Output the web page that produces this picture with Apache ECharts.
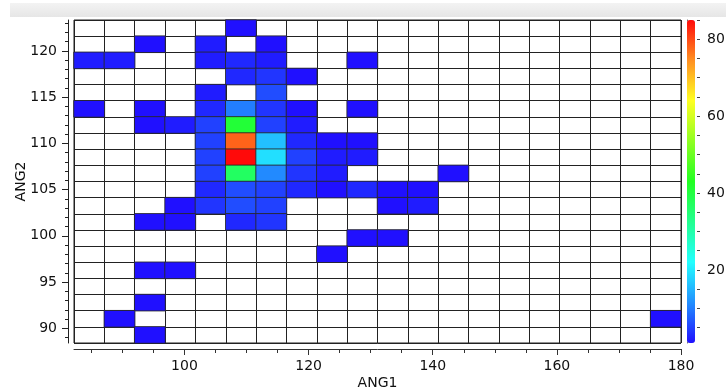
<!DOCTYPE html>
<html>
<head>
<meta charset="utf-8">
<style>
  html, body { margin: 0; padding: 0; background: #ffffff; }
  #chart { width: 726px; height: 391px; }
</style>
<script src="https://cdn.jsdelivr.net/npm/echarts@6/dist/echarts.min.js"></script>
</head>
<body>
<div id="chart"></div>
<script>
// ANG1 bin centres (20 bins spanning 82.2 .. 180)
const ang1Bins = [84.6, 89.5, 94.4, 99.3, 104.2, 109.1, 114.0, 118.9, 123.8, 128.7,
                  133.6, 138.5, 143.3, 148.2, 153.1, 158.0, 162.9, 167.8, 172.7, 177.6];
// ANG2 bin centres (20 bins spanning 88.41 .. 123.35)
const ang2Bins = [89.3, 91.0, 92.8, 94.5, 96.3, 98.0, 99.8, 101.5, 103.3, 105.0,
                  106.8, 108.5, 110.3, 112.0, 113.8, 115.5, 117.3, 119.0, 120.8, 122.5];
// axis ranges
const ang1Range = [82.2, 180];
const ang2Range = [88.41, 123.35];
const countRange = [1, 85];
// tick labels
const ang1Labels = [100, 120, 140, 160, 180];
const ang1Minor = [85, 90, 95, 100, 105, 110, 115, 120, 125, 130, 135, 140, 145, 150, 155, 160, 165, 170, 175, 180];
const ang2Labels = [90, 95, 100, 105, 110, 115, 120];
const ang2Minor = [89, 90, 91, 92, 93, 94, 95, 96, 97, 98, 99, 100, 101, 102, 103, 104, 105, 106,
                   107, 108, 109, 110, 111, 112, 113, 114, 115, 116, 117, 118, 119, 120, 121, 122, 123];
const countLabels = [20, 40, 60, 80];
const countMinor = [5, 10, 15, 20, 25, 30, 35, 40, 45, 50, 55, 60, 65, 70, 75, 80, 85];
// non-empty cells: [ANG1 bin index, ANG2 bin index, count]
const cells = [
  [5,19,1],
  [2,18,1],[4,18,2],[6,18,1],
  [0,17,2],[1,17,2],[4,17,2],[5,17,3],[6,17,2],[9,17,1],
  [5,16,3],[6,16,4],[7,16,1],
  [4,15,2],[6,15,6],
  [0,14,1],[2,14,1],[4,14,3],[5,14,10],[6,14,4],[7,14,1],[9,14,1],
  [2,13,1],[3,13,2],[4,13,5],[5,13,41],[6,13,5],[7,13,2],
  [4,12,5],[5,12,78],[6,12,16],[7,12,3],[8,12,1],[9,12,1],
  [4,11,5],[5,11,85],[6,11,19],[7,11,5],[8,11,2],[9,11,2],
  [4,10,5],[5,10,37],[6,10,11],[7,10,4],[8,10,2],[12,10,1],
  [4,9,3],[5,9,6],[6,9,5],[7,9,3],[8,9,1],[9,9,3],[10,9,1],[11,9,1],
  [3,8,1],[4,8,4],[5,8,6],[6,8,5],[10,8,1],[11,8,2],
  [2,7,1],[3,7,1],[5,7,3],[6,7,4],
  [9,6,1],[10,6,1],
  [8,5,1],
  [2,4,1],[3,4,1],
  [2,2,1],
  [1,1,1],[19,1,1],
  [2,0,1]
];
const palette = ['#2010ff', '#2290ff', '#22ffff', '#22ff90', '#22ff22', '#90ff22', '#ffff22', '#ff9022', '#ff0a0a'];

const FONT = 'DejaVu Sans';
const txt = { color: '#111', fontFamily: FONT, fontSize: 14 };

const chart = echarts.init(document.getElementById('chart'), null, { renderer: 'canvas' });

const option = {
  animation: false,
  backgroundColor: '#ffffff',
  graphic: [{
    type: 'rect', left: 10, top: 3, shape: { width: 716, height: 14 },
    style: { fill: new echarts.graphic.LinearGradient(0, 0, 0, 1, [
      { offset: 0, color: '#f3f3f3' }, { offset: 1, color: '#e6e6e6' }]) },
    z: -10, silent: true
  }],
  grid: [
    { left: 74, top: 20, width: 607, height: 323, show: true, borderColor: '#222', borderWidth: 1,
      backgroundColor: '#fff', containLabel: false, outerBoundsMode: 'none' },
    { left: 687, top: 20, width: 10, height: 323, show: false, containLabel: false, outerBoundsMode: 'none' }
  ],
  xAxis: [
    { type: 'category', gridIndex: 0, data: ang1Bins, boundaryGap: true,
      axisLine: { show: false }, axisTick: { show: false }, axisLabel: { show: false },
      splitLine: { show: true, interval: 0, lineStyle: { color: '#222', width: 1 } } },
    { type: 'value', gridIndex: 0, min: ang1Range[0], max: ang1Range[1], position: 'bottom', offset: 6,
      axisLine: { show: true, lineStyle: { color: '#333', width: 1 } },
      axisTick: { show: true, length: 6, customValues: ang1Labels, lineStyle: { color: '#333' } },
      axisLabel: { show: true, customValues: ang1Labels, margin: 10, ...txt },
      splitLine: { show: false },
      name: 'ANG1', nameLocation: 'middle', nameGap: 27, nameMoveOverlap: false, nameTextStyle: txt },
    { type: 'value', gridIndex: 0, min: ang1Range[0], max: ang1Range[1], position: 'bottom', offset: 6,
      axisLine: { show: false },
      axisTick: { show: true, length: 4, customValues: ang1Minor, lineStyle: { color: '#333' } },
      axisLabel: { show: false }, splitLine: { show: false } },
    { type: 'value', gridIndex: 1, min: 0, max: 1, show: false }
  ],
  yAxis: [
    { type: 'category', gridIndex: 0, data: ang2Bins, boundaryGap: true,
      axisLine: { show: false }, axisTick: { show: false }, axisLabel: { show: false },
      splitLine: { show: true, interval: 0, lineStyle: { color: '#222', width: 1 } } },
    { type: 'value', gridIndex: 0, min: ang2Range[0], max: ang2Range[1], position: 'left', offset: 6,
      axisLine: { show: true, lineStyle: { color: '#222', width: 1 } },
      axisTick: { show: true, length: 6, customValues: ang2Labels, lineStyle: { color: '#222' } },
      axisLabel: { show: true, customValues: ang2Labels, margin: 11, ...txt },
      splitLine: { show: false },
      name: 'ANG2', nameLocation: 'middle', nameGap: 40, nameMoveOverlap: false, nameTextStyle: txt },
    { type: 'value', gridIndex: 0, min: ang2Range[0], max: ang2Range[1], position: 'left', offset: 6,
      axisLine: { show: false },
      axisTick: { show: true, length: 3, customValues: ang2Minor, lineStyle: { color: '#222' } },
      axisLabel: { show: false }, splitLine: { show: false } },
    { type: 'value', gridIndex: 1, min: countRange[0], max: countRange[1], position: 'right',
      axisLine: { show: true, lineStyle: { color: '#666', width: 1 } },
      axisTick: { show: true, inside: false, length: 5, customValues: countLabels, lineStyle: { color: '#444' } },
      axisLabel: { show: true, customValues: countLabels, margin: 10, ...txt },
      splitLine: { show: false } },
    { type: 'value', gridIndex: 1, min: countRange[0], max: countRange[1], position: 'right',
      axisLine: { show: false },
      axisTick: { show: true, length: 3, customValues: countMinor, lineStyle: { color: '#444' } },
      axisLabel: { show: false }, splitLine: { show: false } }
  ],
  visualMap: {
    type: 'continuous', min: countRange[0], max: countRange[1], seriesIndex: 0, dimension: 2,
    calculable: false, orient: 'vertical', left: 687, top: 20, itemWidth: 8, itemHeight: 323,
    padding: 0, text: null, showLabel: false, hoverLink: false,
    inRange: { color: palette }
  },
  series: [{
    type: 'heatmap', xAxisIndex: 0, yAxisIndex: 0,
    data: cells,
    itemStyle: { borderColor: 'rgba(40,40,40,0.85)', borderWidth: 1 },
    emphasis: { disabled: true }
  }]
};
chart.setOption(option);
</script>
</body>
</html>
